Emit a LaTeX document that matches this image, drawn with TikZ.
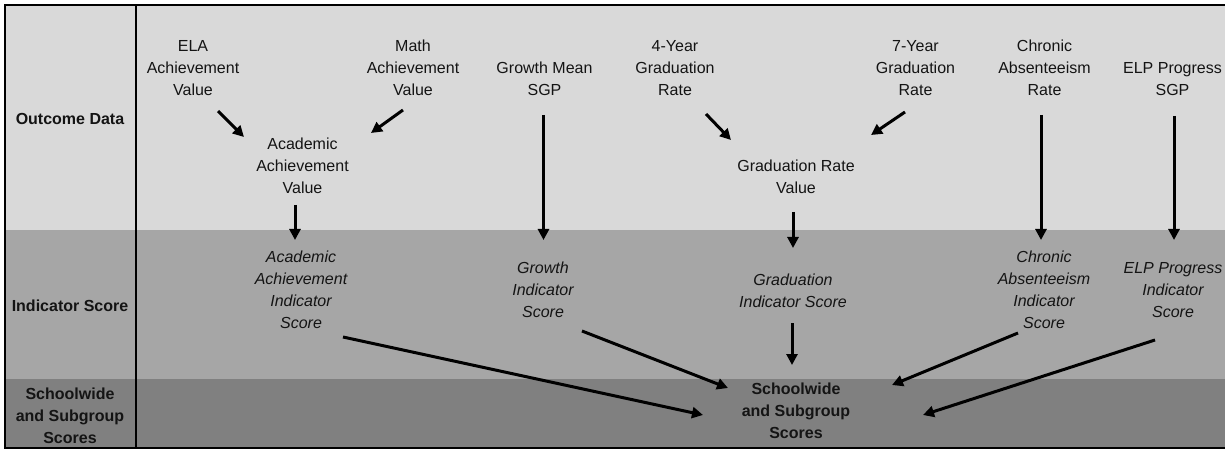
\documentclass[tikz,border=0pt]{standalone}
\usepackage{fontspec}
\setmainfont{Liberation Sans}
\usetikzlibrary{arrows.meta}

\definecolor{bandtop}{HTML}{D9D9D9}
\definecolor{bandmid}{HTML}{A6A6A6}
\definecolor{bandlow}{HTML}{808080}

\tikzset{
  txt/.style={align=center, inner sep=0pt, text=black!92,
    font=\fontsize{16}{22}\selectfont,
    execute at begin node=\strut, execute at end node=\strut},
  itxt/.style={txt, font=\fontsize{16}{22}\selectfont\itshape},
  btxt/.style={txt, font=\fontsize{16}{22}\selectfont\bfseries},
  arr/.style={line width=3pt, -{Triangle[length=11pt,width=11pt]}},
}

\begin{document}
\begin{tikzpicture}[x=1pt, y=-1pt]
    \useasboundingbox (0,0) rectangle (1225,454);
\fill[bandtop] (5,5) rectangle (1230,230) ; % outcome band
\fill[bandmid] (5,230) rectangle (1230,379) ; % indicator band
\fill[bandlow] (5,379) rectangle (1230,448) ; % scores band
\draw[line width=2.5pt] (1232,5) -- (5,5) -- (5,448) -- (1232,448) ; % frame
\draw[line width=2pt] (136,5) -- (136,448) ; % row titles
\node[btxt] (outcome) at (70,120) {Outcome Data};
\node[btxt] (indicator) at (70,307) {Indicator Score};
\node[btxt] (scorerow) at (70,419) {Schoolwide\\and Subgroup\\Scores};
\node[txt] (ela) at (193,71) {ELA\\Achievement\\Value};
\node[txt] (mathv) at (413,71) {Math\\Achievement\\Value};
\node[txt] (growthsgp) at (544.5,82) {Growth Mean\\SGP};
\node[txt] (fouryr) at (675,71) {4-Year\\Graduation\\Rate};
\node[txt] (sevenyr) at (915.5,71) {7-Year\\Graduation\\Rate};
\node[txt] (chronic) at (1044.5,71) {Chronic\\Absenteeism\\Rate};
\node[txt] (elpsgp) at (1172.5,82) {ELP Progress\\SGP};
\node[txt] (acadval) at (302.5,169) {Academic\\Achievement\\Value};
\node[txt] (gradval) at (796,180) {Graduation Rate\\Value};
\node[itxt] (acadind) at (301,293) {Academic\\Achievement\\Indicator\\Score};
\node[itxt] (growthind) at (543,293) {Growth\\Indicator\\Score};
\node[itxt] (gradind) at (793,294) {Graduation\\Indicator Score};
\node[itxt] (chronicind) at (1044,293) {Chronic\\Absenteeism\\Indicator\\Score};
\node[itxt] (elpind) at (1173,293) {ELP Progress\\Indicator\\Score};
\node[btxt] (school) at (796,414) {Schoolwide\\and Subgroup\\Scores};
% outcome data
\draw[arr] ([shift={(25,40)}]ela.center) -- ([shift={(-58.5,-32)}]acadval.center) ;
\draw[arr] ([shift={(-10,39)}]mathv.center) -- ([shift={(68.5,-36)}]acadval.center) ;
\draw[arr] ([shift={(31,43)}]fouryr.center) -- ([shift={(-65,-40)}]gradval.center) ;
\draw[arr] ([shift={(-10.5,41)}]sevenyr.center) -- ([shift={(75,-45)}]gradval.center) ;
\draw[arr] ([shift={(-1,33)}]growthsgp.center) -- ([shift={(0.5,-53)}]growthind.center) ;
\draw[arr] ([shift={(-3.5,44)}]chronic.center) -- ([shift={(-3,-53)}]chronicind.center) ;
\draw[arr] ([shift={(1.5,34)}]elpsgp.center) -- ([shift={(1,-53)}]elpind.center) ;
\draw[arr] ([shift={(-7.5,36)}]acadval.center) -- ([shift={(-6,-53)}]acadind.center) ;
\draw[arr] ([shift={(-3,32)}]gradval.center) -- ([shift={(0,-46)}]gradind.center) ;
% indicator scores
\draw[arr] ([shift={(42,44)}]acadind.center) -- ([shift={(-93,1)}]school.center) ;
\draw[arr] ([shift={(39,38)}]growthind.center) -- ([shift={(-68,-26)}]school.center) ;
\draw[arr] ([shift={(-1,29)}]gradind.center) -- ([shift={(-4,-49)}]school.center) ;
\draw[arr] ([shift={(-26,40)}]chronicind.center) -- ([shift={(96,-29)}]school.center) ;
\draw[arr] ([shift={(-18,47)}]elpind.center) -- ([shift={(127,1)}]school.center) ;
    \end{tikzpicture}
\end{document}
